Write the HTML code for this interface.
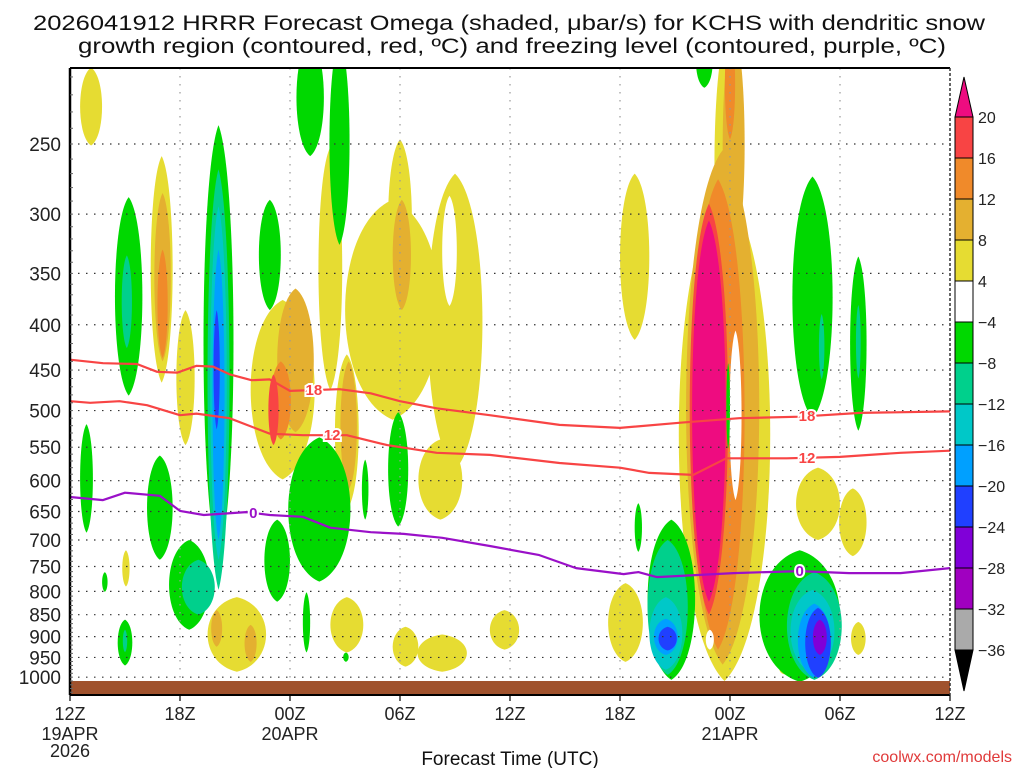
<!DOCTYPE html>
<html><head><meta charset="utf-8"><title>HRRR Omega time-height</title>
<style>
html,body{margin:0;padding:0;background:#fff;}
svg{display:block;font-family:"Liberation Sans",sans-serif;}
</style></head>
<body>
<svg id="chart" width="1024" height="768" viewBox="0 0 1024 768" xmlns="http://www.w3.org/2000/svg">
<defs><clipPath id="plotclip"><rect x="70" y="68" width="880" height="627"/></clipPath></defs>
<text x="33" y="30" font-size="21" fill="#111" textLength="952" lengthAdjust="spacingAndGlyphs">2026041912 HRRR Forecast Omega (shaded, μbar/s) for KCHS with dendritic snow</text>
<text x="78" y="53" font-size="21" fill="#111" textLength="868" lengthAdjust="spacingAndGlyphs">growth region (contoured, red, ºC) and freezing level (contoured, purple, ºC)</text>
<rect x="70" y="68" width="880" height="627" fill="#fff"/>
<g id="shading" clip-path="url(#plotclip)"></g>
<g id="grid"></g>
<g id="contours" clip-path="url(#plotclip)"></g>
<rect x="70" y="681" width="880" height="13" fill="#a0522d"/>
<g id="frame"></g>
<g id="yaxis"></g>
<g id="xaxis"></g>
<text x="510" y="765" font-size="19" text-anchor="middle" fill="#111">Forecast Time (UTC)</text>
<text x="1012" y="762" font-size="16" text-anchor="end" fill="#e03a3a">coolwx.com/models</text>
<g id="colorbar"></g>
</svg>
<script>
// ---- data (hours since 12Z 19APR, pressure hPa) ----
const pressureTicks = [250,300,350,400,450,500,550,600,650,700,750,800,850,900,950,1000];
const timeTicks = [0,6,12,18,24,30,36,42,48];
const timeLabels = ["12Z","18Z","00Z","06Z","12Z","18Z","00Z","06Z","12Z"];
const dateLabels = {0:["19APR","2026"],12:["20APR"],36:["21APR"]};
const cbarLevels = [20,16,12,8,4,-4,-8,-12,-16,-20,-24,-28,-32,-36];
// shapes: [hour, pTop, pBottom, halfWidthHours, level]
const positiveShapes = [
 [1.15,205,251,0.6,1],[5.0,258,465,0.6,1],[6.3,385,547,0.5,1],[11.6,375,598,1.75,1],
 [14.2,252,474,0.65,1],[17.6,289,512,2.6,1],[18.0,247,375,0.65,1],[21.0,270,583,1.5,1],
 [20.2,539,664,1.2,1],[15.1,432,647,0.65,1],[30.8,270,416,0.8,1],[35.9,185,375,0.75,1],
 [35.7,281,1010,2.5,1],[30.3,783,961,0.95,1],[40.8,580,700,1.2,1],[42.7,612,730,0.75,1],
 [43.0,866,944,0.4,1],[39.0,968,993,0.3,1],[9.1,812,986,1.6,1],[3.05,719,790,0.2,1],
 [15.1,812,938,0.9,1],[18.3,877,973,0.7,1],[20.3,895,986,1.35,1],[23.7,840,931,0.8,1],
 [5.05,284,440,0.45,2],[12.3,364,529,1.0,2],[18.1,289,385,0.5,2],[15.2,440,614,0.45,2],
 [36.2,185,338,0.6,2],[35.6,254,968,2.0,2],[8.0,840,924,0.3,2],[9.85,873,961,0.33,2],
 [5.05,329,436,0.28,3],[11.5,440,539,0.55,3],[36.0,185,247,0.28,3],[35.35,274,931,1.45,3],
 [11.1,455,547,0.28,4],[34.85,292,850,1.05,4],
 [34.85,305,822,0.92,5]
];
const holeShapes = [
 [20.7,286,381,0.4,0],[36.3,406,631,0.33,0],[34.9,884,931,0.22,0]
];
const negativeShapes = [
 [13.1,190,258,0.75,-1],[14.7,190,325,0.55,-1],[3.2,287,481,0.75,-1],[8.1,238,737,0.82,-1],
 [4.9,562,737,0.7,-1],[6.5,700,884,1.1,-1],[10.9,289,385,0.6,-1],[11.3,664,822,0.7,-1],
 [13.6,536,780,1.7,-1],[16.1,568,664,0.18,-1],[17.9,502,676,0.55,-1],[0.9,518,687,0.35,-1],
 [1.9,761,801,0.15,-1],[3.0,861,970,0.4,-1],[15.05,938,961,0.15,-1],[12.9,802,938,0.2,-1],
 [34.6,190,216,0.45,-1],[31.0,636,722,0.2,-1],[40.5,272,510,1.1,-1],[43.0,335,527,0.45,-1],
 [35.9,442,552,0.1,-1],[32.8,664,1007,1.3,-1],[39.8,719,1012,2.2,-1],
 [3.1,334,425,0.28,-2],[7.0,737,850,0.9,-2],[8.1,267,797,0.6,-2],[3.0,884,937,0.12,-2],
 [41.0,389,461,0.15,-2],[43.0,380,460,0.13,-2],[32.6,700,994,1.1,-2],[40.6,761,1007,1.5,-2],
 [8.1,294,737,0.45,-3],[32.5,812,981,0.9,-3],[40.5,797,988,1.2,-3],
 [8.1,329,700,0.33,-4],[32.5,859,944,0.65,-4],[40.6,826,1002,0.9,-4],
 [8.0,385,525,0.17,-5],[32.6,877,933,0.5,-5],[40.8,835,1002,0.7,-5],
 [40.9,861,944,0.38,-6]
];
const dgzMinus18Hours = [0,1.8,3.65,4.75,5.85,6.9,7.8,8.7,9.9,10.9,12,14.7,16.4,18,20,22.9,26.7,30,33.3,36.5,39.8,43.1,48];
const dgzMinus18Press = [438,442,443,452,453,445,446,455,462,461,475,473,478,488,497,506,519,523,516,510,508,503,501];
const dgzMinus12Hours = [0,1.1,2.7,4.2,6,6.9,8.7,10.9,12.7,15.1,17.3,20,22.9,26.7,30,31.6,34,35.8,39.1,42,45.3,48];
const dgzMinus12Press = [488,490,488,493,506,504,510,531,533,533,547,558,561,573,580,588,591,566,566,564,558,555];
const freezeHours = [0,1.8,3,4.9,6,7.3,9.6,10.9,12.7,14.2,16.4,18.2,20.3,22.9,25.6,27.6,30.2,31,32,36.2,39.8,42.5,45.3,48];
const freezePress = [626,631,619,624,649,656,651,656,659,678,686,689,696,711,728,753,765,761,771,763,759,763,763,753];
const contourLabels = [["18",13.3,"m18"],["18",40.2,"m18"],["12",14.3,"m12"],["12",40.2,"m12"],["0",10.0,"frz"],["0",39.8,"frz"]];

// ---- axes ----
const NS="http://www.w3.org/2000/svg";
const X = h => 70 + h*880/48;
const Y = p => 144 + 384.6*Math.log(p/250);
const colors = {"1":"#e6dc32","2":"#e4b030","3":"#f08a2a","4":"#f84444","5":"#ee0c80","0":"#ffffff",
 "-1":"#00d800","-2":"#00d08c","-3":"#00c8c8","-4":"#00a0ff","-5":"#2040ff","-6":"#8000d8","-7":"#a000c0","-8":"#aaaaaa"};
function mk(tag, attrs, parent){const e=document.createElementNS(NS,tag);for(const k in attrs)e.setAttribute(k,attrs[k]);parent.appendChild(e);return e;}

const shading=document.getElementById('shading');
function drawShape(s){
  const cx=X(s[0]), yT=Y(s[1]), yB=Y(s[2]), w=s[3]*880/48, k=1.33*w, hgt=yB-yT;
  const a=0.12;
  const d=`M${cx},${yT} C${cx+k},${yT+hgt*a} ${cx+k},${yB-hgt*a} ${cx},${yB} C${cx-k},${yB-hgt*a} ${cx-k},${yT+hgt*a} ${cx},${yT} Z`;
  const el=mk('path',{d:d,fill:colors[String(s[4])]},shading);
  
  
}
const posSorted=positiveShapes.slice().sort((a,b)=>a[4]-b[4]);
posSorted.forEach(drawShape);
holeShapes.forEach(drawShape);
const negSorted=negativeShapes.slice().sort((a,b)=>b[4]-a[4]);
negSorted.forEach(drawShape);

// grid
const grid=document.getElementById('grid');
pressureTicks.forEach(p=>{
  const l=mk('line',{x1:70,x2:950,y1:Y(p),y2:Y(p),stroke:"#333","stroke-width":1.2,"stroke-dasharray":"1.5 6.5"},grid);
  
  
});
timeTicks.slice(1,-1).forEach(h=>{
  const l=mk('line',{x1:X(h),x2:X(h),y1:68,y2:695,stroke:"#999","stroke-width":1.2,"stroke-dasharray":"1.5 6.5"},grid);
  
  
});

// contours
const cont=document.getElementById('contours');
function line(hs,ps,color,name){
  const pts=hs.map((h,i)=>X(h).toFixed(1)+","+Y(ps[i]).toFixed(1)).join(" ");
  const el=mk('polyline',{points:pts,fill:"none",stroke:color,"stroke-width":2.2,"stroke-linejoin":"round"},cont);
  
  
}
line(dgzMinus18Hours,dgzMinus18Press,"#f84444","minus18-contour");
line(dgzMinus12Hours,dgzMinus12Press,"#f84444","minus12-contour");
line(freezeHours,freezePress,"#9a10c8","freezing-level-contour");
function interp(hs,ps,h){for(let i=0;i<hs.length-1;i++){if(h>=hs[i]&&h<=hs[i+1]){const t=(h-hs[i])/(hs[i+1]-hs[i]);return ps[i]+t*(ps[i+1]-ps[i]);}}return ps[ps.length-1];}
contourLabels.forEach(c=>{
  const hs=c[2]==="m18"?dgzMinus18Hours:c[2]==="m12"?dgzMinus12Hours:freezeHours;
  const ps=c[2]==="m18"?dgzMinus18Press:c[2]==="m12"?dgzMinus12Press:freezePress;
  const col=c[2]==="frz"?"#9a10c8":"#f84444";
  const y=Y(interp(hs,ps,c[1]));
  const t=mk('text',{x:X(c[1]),y:y+5,"font-size":15,"font-weight":"bold","text-anchor":"middle",fill:col,stroke:"#fff","stroke-width":4,"paint-order":"stroke"},cont);
  t.textContent=c[0];
  
  
});

// frame
const frame=document.getElementById('frame');
mk('line',{x1:70,x2:950,y1:68,y2:68,stroke:"#000","stroke-width":2},frame);
mk('line',{x1:70,x2:950,y1:695,y2:695,stroke:"#000","stroke-width":2},frame);
mk('line',{x1:70,x2:70,y1:68,y2:695,stroke:"#000","stroke-width":2.5},frame);
mk('line',{x1:950,x2:950,y1:68,y2:695,stroke:"#333","stroke-width":1.5,"stroke-dasharray":"3 2"},frame);
for(let p=210;p<=1040;p+=10){const y=Y(p);if(y<68||y>695)continue;mk('line',{x1:70,x2:73,y1:y,y2:y,stroke:"#666","stroke-width":1},frame);}

// y axis
const yaxis=document.getElementById('yaxis');
pressureTicks.forEach(p=>{
  const t=mk('text',{x:61,y:Y(p)+7,"font-size":19,"text-anchor":"end",fill:"#222"},yaxis);
  t.textContent=p;
  
  
});
// x axis
const xaxis=document.getElementById('xaxis');
timeTicks.forEach((h,i)=>{
  mk('line',{x1:X(h),x2:X(h),y1:695,y2:701,stroke:"#000","stroke-width":1.2},xaxis);
  const t=mk('text',{x:X(h),y:720,"font-size":18,"text-anchor":"middle",fill:"#222"},xaxis);
  t.textContent=timeLabels[i];
  
  
  (dateLabels[h]||[]).forEach((s,j)=>{
    const d=mk('text',{x:X(h),y:740+j*17,"font-size":18,"text-anchor":"middle",fill:"#222"},xaxis);
    d.textContent=s;
    
    
  });
});

// colorbar
const cb=document.getElementById('colorbar');
const cbTop=117, cbStep=41, cbX=955, cbW=18;
const cbColors=["#f84444","#f08a2a","#e4b030","#e6dc32","#ffffff","#00d800","#00d08c","#00c8c8","#00a0ff","#2040ff","#8000d8","#a000c0","#aaaaaa"];
const tri1=mk('polygon',{points:`${cbX},${cbTop} ${cbX+cbW},${cbTop} ${cbX+cbW/2},${cbTop-40}`,fill:"#ee0c80",stroke:"#000","stroke-width":1},cb);


cbColors.forEach((c,i)=>{
  const r=mk('rect',{x:cbX,y:cbTop+i*cbStep,width:cbW,height:cbStep,fill:c,stroke:"#000","stroke-width":1},cb);
  
  
});
const yb=cbTop+cbColors.length*cbStep;
const tri2=mk('polygon',{points:`${cbX},${yb} ${cbX+cbW},${yb} ${cbX+cbW/2},${yb+41}`,fill:"#000",stroke:"#000","stroke-width":1},cb);


cbarLevels.forEach((v,i)=>{
  const t=mk('text',{x:978,y:cbTop+i*cbStep+6,"font-size":16,fill:"#222"},cb);
  t.textContent=(v<0?"\u2212"+Math.abs(v):String(v));
  
  
});
</script>
</body></html>
